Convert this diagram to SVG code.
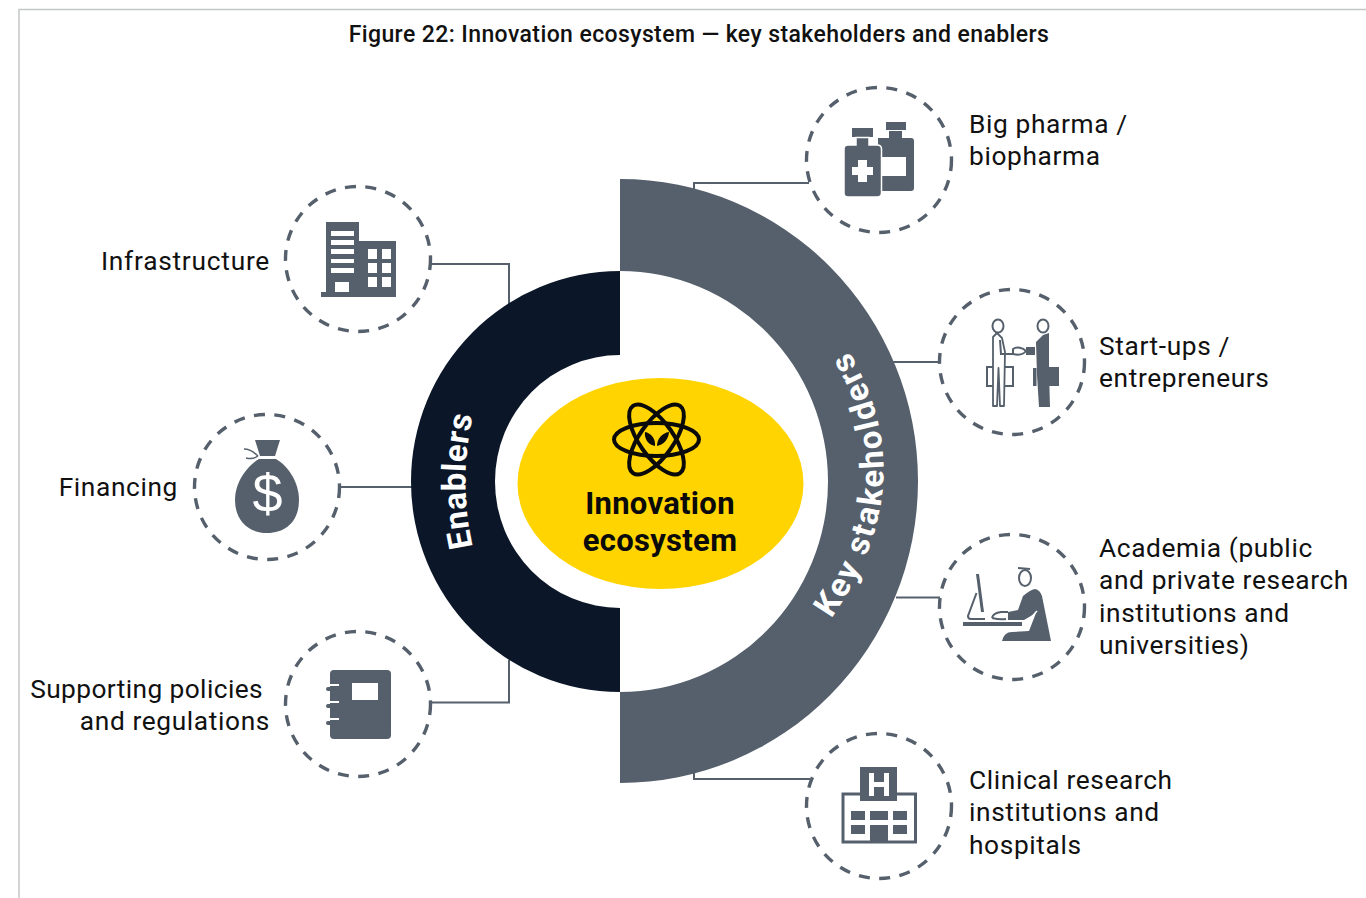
<svg xmlns="http://www.w3.org/2000/svg" width="1366" height="898" viewBox="0 0 1366 898">
<style>
text{font-family:Roboto,"Liberation Sans",sans-serif;fill:#111}
.l{font-size:26.300px;letter-spacing:.62px}
.c{fill:#fff;stroke:#55606c;stroke-width:3.4;stroke-dasharray:11 9.5}
.i{fill:#55606c}
.w{fill:#fff}
.n{fill:none;stroke:#55606c;stroke-width:2}
.thin{fill:none;stroke:#55606c;stroke-width:2}
.b{font-weight:700;fill:#fff;font-size:33px}
.h{font-size:31px;font-weight:700;fill:#0a0a0a;letter-spacing:.3px}
</style>
<defs>
<path id="ks" d="M826 626Q932 480 843 342" fill="none"/>
<path id="en" d="M474 552Q457 481 474 410" fill="none"/>
</defs>
<rect width="1366" height="898" fill="#fff"/>
<path d="M19 898V9.500H1366" fill="none" stroke="#c4c6c8" stroke-width="1.500"/>
<text id="title" x="699" y="42" text-anchor="middle" style="font-size:23px;font-weight:500;letter-spacing:.4px">Figure 22: Innovation ecosystem — key stakeholders and enablers</text>
<g id="connectors">
<path class="n" d="M694 190V183H809"/>
<path class="n" d="M892 362H940"/>
<path class="n" d="M896 597.500H940"/>
<path class="n" d="M694 772V779H810"/>
<path class="n" d="M432 264H509V304"/>
<path class="n" d="M341 487H413"/>
<path class="n" d="M432 702.500H509V660"/>
</g>
<g id="key-stakeholders">
<path fill="#55606c" d="M620 179A298 302 0 0 1 620 783V692A208 210.500 0 0 0 620 271Z"/>
<text class="b" style="letter-spacing:2px"><textPath href="#ks" startOffset="50%" text-anchor="middle">Key stakeholders</textPath></text>
</g>
<g id="enablers">
<path fill="#0b1728" d="M620 271A209 210.500 0 0 0 620 692V608A125 126.500 0 0 1 620 355Z"/>
<text class="b" style="letter-spacing:.5px"><textPath href="#en" startOffset="50%" text-anchor="middle">Enablers</textPath></text>
</g>
<g id="innovation-ecosystem">
<ellipse cx="660.500" cy="483.500" rx="143" ry="105.500" fill="#ffd400"/>
<g fill="none" stroke="#0a0a0a" stroke-width="4">
<ellipse cx="656.500" cy="439.500" rx="42.500" ry="16.500"/>
<ellipse cx="656.500" cy="439.500" rx="41" ry="17" transform="rotate(55 656.500 439.500)"/>
<ellipse cx="656.500" cy="439.500" rx="41" ry="17" transform="rotate(-55 656.500 439.500)"/>
</g>
<path fill="#0a0a0a" d="M655 446C648 445 644 438 645 432C651 433 656 439 655 446ZM657 446C664 445 669 438 669 432C662 433 657 439 657 446Z"/>
<text class="h" x="660" y="514" text-anchor="middle">Innovation</text>
<text class="h" x="660" y="551" text-anchor="middle">ecosystem</text>
</g>
<g id="big-pharma">
<circle class="c" cx="879" cy="160" r="72.500"/>
<rect class="i" x="886" y="122" width="20" height="8"/>
<path class="i" d="M889 131H902V138H911Q914 138 914 141V188Q914 191 911 191H878V138H889Z"/>
<rect class="w" x="882" y="157" width="24" height="19"/>
<rect class="i" x="852" y="128" width="21" height="9"/>
<path class="i" stroke="#fff" stroke-width="1.500" d="M856 137.500H869V145H877Q881.500 145 881.500 149V193Q881.500 197 877 197H848Q844 197 844 193V149Q844 145 848 145H856Z"/>
<path class="w" d="M858 160H867V167H873V175H867V182H858V175H852V167H858Z"/>
<text class="l" x="969" y="133">Big pharma /</text>
<text class="l" x="969" y="165">biopharma</text>
</g>
<g id="start-ups">
<circle class="c" cx="1012" cy="362" r="72.500"/>
<rect x="987" y="367" width="26" height="19" fill="none" stroke="#55606c" stroke-width="2"/>
<ellipse cx="998" cy="326" rx="5.500" ry="6.500" class="w" stroke="#55606c" stroke-width="2"/>
<path d="M993 406V337L997 333L1002 338L1005 352L1004 406H1000L998.500 368L997 406Z" fill="#fff" stroke="#55606c" stroke-width="1.800" stroke-linejoin="round"/>
<path class="thin" d="M1000 340L1001 354H1013"/>
<path class="thin" stroke-width="1.500" d="M1013 349C1017 346 1023 348 1026 351C1023 355 1017 355 1013 354Z"/>
<rect class="i" x="1026" y="347" width="9" height="8"/>
<ellipse cx="1043" cy="326" rx="5.500" ry="6.500" class="w" stroke="#55606c" stroke-width="2"/>
<path class="i" d="M1036 342L1043 335L1049 333V372L1050 407H1039L1037 375Z"/>
<path class="i" d="M1043 367H1059V386H1043Z"/>
<rect class="i" x="1033" y="368" width="3.500" height="18"/>
<text class="l" x="1099" y="355">Start-ups /</text>
<text class="l" x="1099" y="387">entrepreneurs</text>
</g>
<g id="academia">
<circle class="c" cx="1012" cy="607" r="72.500"/>
<path class="i" d="M976 574H979L984 612H981Z"/>
<path class="thin" d="M976.500 593L968 616Q968 619 971 619H985"/>
<rect class="i" x="963" y="622" width="59" height="4"/>
<path class="thin" d="M992 618Q993 613 1001 612H1008M992 618Q1000 620 1006 619"/>
<ellipse cx="1025" cy="578" rx="6" ry="8" fill="#fff" stroke="#55606c" stroke-width="2"/>
<path class="thin" d="M1018 568L1030 569"/>
<path class="i" d="M1023 596Q1030 590 1035 589Q1040 590 1042 596L1051 641H1002Q1004 632 1012 632L1029 631L1036 613L1024 620H1008V612L1018 610Z"/>
<path stroke="#fff" stroke-width="1.500" d="M1037 611L1027 622"/>
<text class="l" x="1099" y="557">Academia (public</text>
<text class="l" x="1099" y="589">and private research</text>
<text class="l" x="1099" y="622">institutions and</text>
<text class="l" x="1099" y="654">universities)</text>
</g>
<g id="clinical">
<circle class="c" cx="879" cy="806" r="72.500"/>
<path d="M860 794H843V842H915.500V794H897" fill="none" stroke="#55606c" stroke-width="3"/>
<rect class="i" x="860" y="767" width="37" height="34"/>
<path class="w" d="M869 773H874V782H884V773H889V796H884V787H874V796H869Z"/>
<path class="i" d="M851 811H865V820H851ZM870 811H888V820H870ZM893 811H907V820H893ZM851 825H865V834H851ZM893 825H907V834H893ZM870 825H888V842H870Z"/>
<text class="l" x="969" y="789">Clinical research</text>
<text class="l" x="969" y="821">institutions and</text>
<text class="l" x="969" y="854">hospitals</text>
</g>
<g id="infrastructure">
<circle class="c" cx="358" cy="259" r="72.500"/>
<path class="i" d="M326 222H359V241H396V297H321V292H326Z"/>
<path class="w" d="M331 231H354V236H331ZM331 240H354V245H331ZM331 249H354V254H331ZM331 259H354V263H331ZM331 268H354V273H331ZM335 282H349V292H335ZM368 249H377V259H368ZM382 249H391V259H382ZM368 263H377V273H368ZM382 263H391V273H382ZM368 277H377V287H368ZM382 277H391V287H382Z"/>
<text class="l" x="270" y="270" text-anchor="end" style="letter-spacing:.75px">Infrastructure</text>
</g>
<g id="financing">
<circle class="c" cx="267" cy="487" r="72.500"/>
<path class="i" d="M255 440H280L275 456H260Z"/>
<path class="i" d="M259 459H276C288 466 299 482 299 500C299 521 286 533 267 533C249 533 235 521 235 500C235 482 247 466 259 459Z"/>
<path fill="none" stroke="#55606c" stroke-width="1.500" d="M258 456C254 452 250 449 244 449M258 456C254 459 250 459 246 458"/>
<text x="267.500" y="512" text-anchor="middle" style="font-size:54px;fill:#fff;font-family:'Liberation Sans',sans-serif">$</text>
<text class="l" x="178" y="496" text-anchor="end">Financing</text>
</g>
<g id="policies">
<circle class="c" cx="358" cy="704" r="72.500"/>
<rect class="i" x="330" y="670" width="61" height="69" rx="4"/>
<rect class="w" x="352" y="683" width="26" height="17"/>
<path stroke="#55606c" stroke-width="4" stroke-linecap="round" d="M328 689H336M328 706H336M328 723H336"/>
<path stroke="#fff" stroke-width="2" d="M330 685H339M330 702H339M330 719H339"/>
<text class="l" x="263" y="698" text-anchor="end" style="letter-spacing:.4px">Supporting policies</text>
<text class="l" x="270" y="730" text-anchor="end">and regulations</text>
</g>
</svg>
